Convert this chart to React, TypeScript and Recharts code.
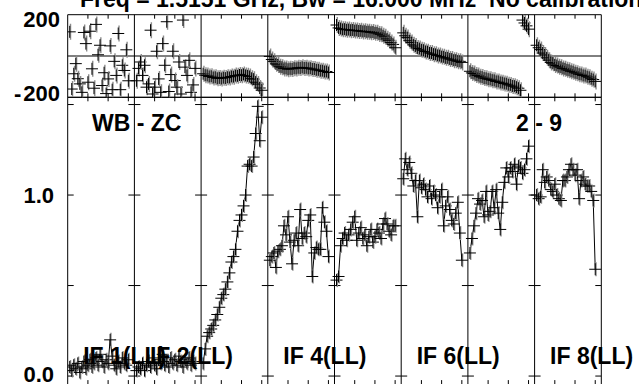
import React from 'react';
import { ComposedChart, Line, Scatter, XAxis, YAxis, ReferenceLine } from 'recharts';

// ---------- data ----------
const channels = [2, 4, 6, 8, 10, 12, 14, 16, 18, 20, 22, 24, 26, 28, 30, 32, 34, 36, 38, 40, 42, 44, 46, 48, 50, 52, 54, 56, 58, 60];
const IF_WIDTH = 66; // channel span of one IF column
const IF_COUNT = 8;
const xTickChannels = [20, 40, 60];

const ifLabels = ['IF 1(LL)', 'IF 2(LL)', 'IF 3(LL)', 'IF 4(LL)', 'IF 5(LL)', 'IF 6(LL)', 'IF 7(LL)', 'IF 8(LL)'];
const labelledIFs = [0, 1, 3, 5, 7];

const titleText = 'Freq = 1.5151 GHz, Bw = 16.000 MHz  No calibration';
const baselineLabel = 'WB - ZC';
const baselineNumbers = '2 - 9';

const phaseDomain = [-200, 200];
const phaseLabelTicks = [200, -200];
const ampDomain = [-0.05, 1.54];
const ampLabelTicks = [0, 1];
const ampTickMarks = [0, 0.5, 1, 1.5];

const phaseIF1 = [117, -160, -86, -37, -110, -135, -176, 114, 60, -127, 120, -62, -156, 153, 6, 52, -143, -81, -182, -111, 49, -163, -26, -94, 109, -163, -45, -70, 30, -120];
const phaseIF2 = [-120, -60, -29, -94, -45, -151, -135, 125, -184, -151, 23, -111, -176, 60, -45, 166, -172, -90, 23, -119, -151, -29, -184, 174, -54, -94, -21, -176, -140, -60];
const phaseIF3 = [-86, -93, -94, -99, -98, -104, -103, -108, -106, -109, -105, -107, -103, -104, -99, -100, -95, -96, -92, -93, -89, -94, -96, -99, -108, -112, -127, -136, -155, -166];
const phaseIF4 = [-2, -17, -26, -38, -43, -52, -54, -60, -60, -64, -62, -63, -59, -60, -57, -58, -55, -58, -57, -60, -59, -63, -63, -67, -67, -71, -71, -75, -75, -80];
const phaseIF5 = [150, 136, 133, 129, 130, 127, 128, 125, 126, 123, 124, 121, 122, 119, 120, 117, 118, 115, 116, 112, 112, 107, 105, 98, 93, 83, 76, 65, 56, 40];
const phaseIF6 = [112, 98, 89, 74, 65, 54, 48, 39, 36, 30, 28, 22, 21, 15, 14, 9, 8, 3, 2, -3, -4, -9, -9, -14, -15, -20, -20, -25, -26, -31];
const phaseIF7 = [-74, -82, -85, -92, -94, -100, -102, -107, -108, -112, -113, -117, -118, -123, -123, -128, -129, -133, -134, -139, -140, -145, -146, -151, -156, -166, 174, 160, 146, 130];
const phaseIF8 = [52, 40, 31, 14, 5, -9, -20, -31, -35, -43, -46, -52, -54, -60, -62, -67, -69, -74, -76, -81, -83, -88, -89, -94, -95, -100, -103, -110, -114, -123];

const ampIF1 = [0.05, 0.03, 0.06, 0.04, 0.07, 0.02, 0.05, 0.08, 0.04, 0.06, 0.09, 0.05, 0.07, 0.1, 0.06, 0.12, 0.08, 0.05, 0.09, 0.07, 0.2, 0.11, 0.06, 0.04, 0.08, 0.05, 0.1, 0.07, 0.06, 0.09];
const ampIF2 = [0.03, 0.05, 0.04, 0.07, 0.03, 0.06, 0.08, 0.05, 0.1, 0.06, 0.04, 0.09, 0.07, 0.12, 0.06, 0.08, 0.05, 0.1, 0.07, 0.09, 0.06, 0.11, 0.08, 0.05, 0.09, 0.07, 0.1, 0.06, 0.08, 0.07];
const ampIF3 = [0.07, 0.15, 0.22, 0.24, 0.26, 0.28, 0.31, 0.34, 0.38, 0.43, 0.45, 0.48, 0.52, 0.57, 0.63, 0.66, 0.7, 0.8, 0.86, 0.89, 0.94, 1.0, 1.16, 1.17, 1.16, 1.21, 1.34, 1.49, 1.3, 1.43];
const ampIF4 = [0.64, 0.66, 0.68, 0.6, 0.69, 0.7, 0.72, 0.83, 0.78, 0.88, 0.74, 0.62, 0.75, 0.79, 0.72, 0.92, 0.76, 0.79, 0.77, 0.86, 0.89, 0.55, 0.68, 0.71, 0.7, 0.7, 0.93, 0.85, 0.8, 0.66];
const ampIF5 = [0.53, 0.55, 0.72, 0.76, 0.79, 0.75, 0.78, 0.81, 0.85, 0.88, 0.75, 0.79, 0.82, 0.76, 0.78, 0.72, 0.77, 0.81, 0.74, 0.77, 0.81, 0.79, 0.76, 0.84, 0.87, 0.84, 0.8, 0.78, 0.83, 0.83];
const ampIF6 = [1.09, 1.2, 1.14, 1.18, 1.12, 1.05, 1.08, 0.88, 1.08, 1.04, 1.06, 1.03, 0.99, 1.05, 0.98, 1.02, 1.0, 0.93, 0.99, 1.03, 0.83, 0.94, 0.99, 0.92, 0.86, 0.84, 0.9, 0.96, 0.79, 0.64];
const ampIF7 = [0.68, 0.76, 0.83, 0.9, 0.98, 0.95, 0.97, 0.88, 1.02, 0.89, 0.91, 1.02, 0.93, 1.03, 0.9, 0.81, 0.96, 1.07, 1.15, 1.1, 1.15, 1.13, 1.17, 1.06, 1.16, 1.15, 1.12, 1.14, 1.2, 1.27];
const ampIF8 = [1.0, 0.98, 0.99, 1.14, 1.07, 1.1, 1.08, 1.03, 1.02, 1.06, 1.0, 0.98, 0.97, 1.08, 1.08, 1.1, 1.14, 1.17, 1.14, 1.11, 1.14, 0.98, 1.08, 1.1, 1.06, 1.05, 1.05, 1.02, 0.97, 0.59];

const phases = [phaseIF1, phaseIF2, phaseIF3, phaseIF4, phaseIF5, phaseIF6, phaseIF7, phaseIF8];
const amps = [ampIF1, ampIF2, ampIF3, ampIF4, ampIF5, ampIF6, ampIF7, ampIF8];

// ---------- derived tables ----------
const boundaries = Array.from({ length: IF_COUNT + 1 }, (_, k) => k * IF_WIDTH);
const xDomain = [0, IF_COUNT * IF_WIDTH];
const phaseData = phases.flatMap((arr, k) => arr.map((v, i) => ({ x: k * IF_WIDTH + channels[i], y: v })));
const ampSeries = amps.map((arr, k) => arr.map((v, i) => ({ x: k * IF_WIDTH + channels[i], y: v })));
const xTickPos = boundaries.slice(0, IF_COUNT).flatMap((b) => xTickChannels.map((c) => b + c));
const pts = (xs: number[], y: number) => xs.map((x) => ({ x, y }));
const leftEdges = boundaries.slice(0, IF_COUNT);
const rightEdges = boundaries.slice(1);
const ampLeftTicks = ampTickMarks.flatMap((v) => pts(leftEdges, v));
const ampRightTicks = ampTickMarks.flatMap((v) => pts(rightEdges, v));

// ---------- style ----------
const W = 639;
const H = 384;
const PLOT_L = 67.7;
const PLOT_R = 37.7;
const FONT = "'Liberation Sans', Arial, Helvetica, sans-serif";

const PhaseMark = (p: any) => {
  const { cx, cy } = p;
  if (cx == null || cy == null) return <g />;
  return (
    <g>
      <line x1={cx + 0.8} x2={cx + 0.8} y1={cy - 8} y2={cy + 8} stroke="#8c8c8c" strokeWidth={1.4} />
      <line x1={cx - 6} x2={cx + 6} y1={cy} y2={cy} stroke="#000" strokeWidth={1} />
      <line x1={cx} x2={cx} y1={cy - 6} y2={cy + 6} stroke="#000" strokeWidth={1} />
    </g>
  );
};

const AmpMark = (p: any) => {
  const { cx, cy, index } = p;
  if (cx == null || cy == null) return <g key={index} />;
  return (
    <g key={index}>
      <line x1={cx + 0.8} x2={cx + 0.8} y1={cy - 7} y2={cy + 7} stroke="#8c8c8c" strokeWidth={1.4} />
      <line x1={cx - 6} x2={cx + 6} y1={cy} y2={cy} stroke="#000" strokeWidth={1} />
      <line x1={cx} x2={cx} y1={cy - 6} y2={cy + 6} stroke="#000" strokeWidth={1} />
    </g>
  );
};

const seg = (dx1: number, dy1: number, dx2: number, dy2: number) => (p: any) => (
  <line x1={p.cx + dx1} y1={p.cy + dy1} x2={p.cx + dx2} y2={p.cy + dy2} stroke="#000" strokeWidth={1} />
);

const PhaseTick = (p: any) => {
  const { y, payload } = p;
  const v = payload.value;
  if (v > 0) {
    return (
      <text x={60} y={y + 12} textAnchor="end" fontFamily={FONT} fontWeight={700} fontSize={22} fill="#000">
        {String(v)}
      </text>
    );
  }
  return (
    <text x={60} y={y + 4} textAnchor="end" fontFamily={FONT} fontWeight={700} fontSize={22} fill="#000">
      <tspan>-</tspan>
      <tspan dx={2}>{String(Math.abs(v))}</tspan>
    </text>
  );
};

const AmpTick = (p: any) => {
  const { y, payload } = p;
  return (
    <text x={54} y={Math.min(y + 8, 382)} textAnchor="end" fontFamily={FONT} fontWeight={700} fontSize={22} fill="#000">
      {Number(payload.value).toFixed(1)}
    </text>
  );
};

export default function App() {
  const colW = (W - PLOT_L - PLOT_R) / IF_COUNT;
  return (
    <div style={{ position: 'absolute', left: 0, top: 0, width: W, height: H, overflow: 'hidden', background: '#fff' }}>
      {/* amplitude panel */}
      <div style={{ position: 'absolute', left: 0, top: 0 }}>
        <ComposedChart width={W} height={400} margin={{ top: 97.3, right: PLOT_R, bottom: 14.9, left: 0 }}>
          <XAxis type="number" dataKey="x" domain={xDomain} allowDataOverflow hide />
          <YAxis
            type="number"
            dataKey="y"
            domain={ampDomain}
            allowDataOverflow
            ticks={ampLabelTicks}
            width={PLOT_L}
            axisLine={false}
            tickLine={false}
            tick={<AmpTick />}
          />
          {boundaries.map((b) => (
            <ReferenceLine key={'av' + b} x={b} stroke="#000" strokeWidth={1} ifOverflow="visible" />
          ))}
          <ReferenceLine y={ampDomain[1]} stroke="#000" strokeWidth={1} />
          <ReferenceLine y={ampDomain[0]} stroke="#000" strokeWidth={1} />
          <Scatter data={ampLeftTicks} shape={seg(0, 0, 6, 0)} isAnimationActive={false} />
          <Scatter data={ampRightTicks} shape={seg(-6, 0, 0, 0)} isAnimationActive={false} />
          <Scatter data={pts(xTickPos, ampDomain[1])} shape={seg(0, 0, 0, 4)} isAnimationActive={false} />
          <Scatter data={pts(xTickPos, ampDomain[0])} shape={seg(0, 0, 0, -5)} isAnimationActive={false} />
          {ampSeries.map((s, k) => (
            <Line
              key={'amp' + k}
              data={s}
              dataKey="y"
              type="linear"
              stroke="#000"
              strokeWidth={1}
              dot={(p: any) => <AmpMark key={'d' + k + '-' + p.index} {...p} />}
              activeDot={false}
              isAnimationActive={false}
            />
          ))}
        </ComposedChart>
      </div>
      {/* phase panel */}
      <div style={{ position: 'absolute', left: 0, top: 0 }}>
        <ComposedChart width={W} height={120} margin={{ top: 14.7, right: PLOT_R, bottom: 22.7, left: 0 }}>
          <XAxis type="number" dataKey="x" domain={xDomain} allowDataOverflow hide />
          <YAxis
            type="number"
            dataKey="y"
            domain={phaseDomain}
            allowDataOverflow
            ticks={phaseLabelTicks}
            width={PLOT_L}
            axisLine={false}
            tickLine={false}
            tick={<PhaseTick />}
          />
          {boundaries.map((b) => (
            <ReferenceLine key={'pv' + b} x={b} stroke="#000" strokeWidth={1} />
          ))}
          <ReferenceLine y={phaseDomain[1]} stroke="#000" strokeWidth={1} />
          <ReferenceLine y={0} stroke="#000" strokeWidth={1} />
          <ReferenceLine y={phaseDomain[0]} stroke="#000" strokeWidth={1} />
          <Scatter data={pts(xTickPos, phaseDomain[1])} shape={seg(0, 0, 0, 4)} isAnimationActive={false} />
          <Scatter data={pts(xTickPos, phaseDomain[0])} shape={seg(0, -4, 0, 4)} isAnimationActive={false} />
          <Scatter data={phaseData} shape={<PhaseMark />} isAnimationActive={false} />
        </ComposedChart>
      </div>
      {/* text labels */}
      <svg width={W} height={H} style={{ position: 'absolute', left: 0, top: 0, pointerEvents: 'none' }}>
        <text x={80} y={7} fontFamily={FONT} fontWeight={700} fontSize={23} fill="#000" style={{ whiteSpace: 'pre' }}>
          {titleText}
        </text>
        <text x={92} y={131} fontFamily={FONT} fontWeight={700} fontSize={23} fill="#000">
          {baselineLabel}
        </text>
        <text x={516} y={131} fontFamily={FONT} fontWeight={700} fontSize={23} fill="#000">
          {baselineNumbers}
        </text>
        {labelledIFs.map((k) => (
          <text key={k} x={PLOT_L + k * colW + 15.5} y={364} fontFamily={FONT} fontWeight={700} fontSize={23} fill="#000">
            {ifLabels[k]}
          </text>
        ))}
      </svg>
    </div>
  );
}
